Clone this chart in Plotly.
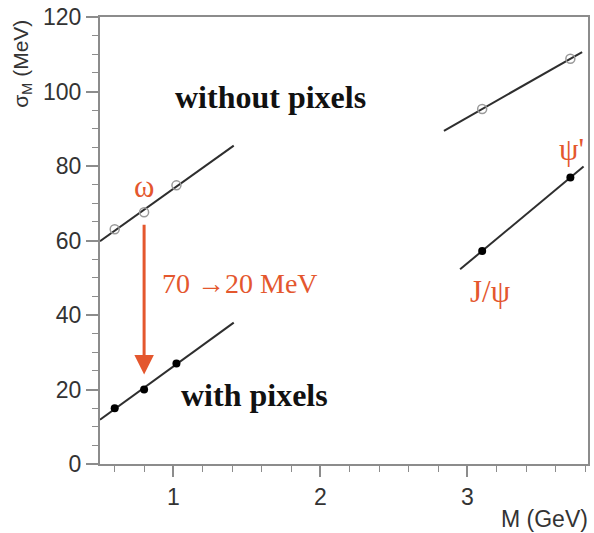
import numpy as np
import plotly.graph_objects as go

# Mass resolution vs. resonance mass, with and without the pixel telescope
light_mass = [0.60, 0.80, 1.02]          # GeV
light_without = [63.0, 67.6, 74.8]       # MeV
light_with = [15.0, 20.0, 27.0]          # MeV

heavy_mass = [3.10, 3.70]                # GeV (J/psi, psi')
heavy_without = [95.3, 108.8]            # MeV
heavy_with = [57.2, 76.9]                # MeV

# x extent of the straight-line fits drawn through each group
light_fit_range = [0.5, 1.41]
heavy_without_fit_range = [2.84, 3.78]
heavy_with_fit_range = [2.95, 3.79]

x_ticks = [1, 2, 3]
y_ticks = [0, 20, 40, 60, 80, 100, 120]

RED = "#e4572e"
LINE = "#2e2e2e"
AXIS = "#8c8c8c"
SANS = "Liberation Sans, Arial, sans-serif"
SERIF = "Liberation Serif, Times New Roman, serif"

fig = go.Figure()


def add_fit(xs, ys, xr):
    k, b = np.polyfit(xs, ys, 1)
    xx = np.array(xr)
    fig.add_trace(go.Scatter(x=xx, y=k * xx + b, mode="lines",
                             line=dict(color=LINE, width=2),
                             hoverinfo="skip", showlegend=False))


add_fit(light_mass, light_without, light_fit_range)
add_fit(light_mass, light_with, light_fit_range)
add_fit(heavy_mass, heavy_without, heavy_without_fit_range)
add_fit(heavy_mass, heavy_with, heavy_with_fit_range)

# open markers: without pixels
fig.add_trace(go.Scatter(x=light_mass + heavy_mass,
                         y=light_without + heavy_without,
                         mode="markers", showlegend=False,
                         marker=dict(symbol="circle-open", size=9,
                                     color="#9a9a9a", line=dict(width=1.5))))
# filled markers: with pixels
fig.add_trace(go.Scatter(x=light_mass + heavy_mass,
                         y=light_with + heavy_with,
                         mode="markers", showlegend=False,
                         marker=dict(symbol="circle", size=8, color="black")))

annotations = [
    dict(x=1.66, y=98.5, text="<b>without pixels</b>", showarrow=False,
         font=dict(family=SERIF, size=32, color="#111")),
    dict(x=1.55, y=18.4, text="<b>with pixels</b>", showarrow=False,
         font=dict(family=SERIF, size=32, color="#111")),
    dict(x=0.80, y=74.5, text="ω", showarrow=False,
         font=dict(family=SERIF, size=31, color=RED)),
    dict(x=0.905, y=48.4, text="70 →20 MeV", showarrow=False, xanchor="left",
         font=dict(family=SERIF, size=28, color=RED)),
    dict(x=3.16, y=46.3, text="J/ψ", showarrow=False,
         font=dict(family=SERIF, size=31, color=RED)),
    dict(x=3.71, y=84.5, text="ψ'", showarrow=False,
         font=dict(family=SERIF, size=31, color=RED)),
    # improvement arrow at the omega mass
    dict(x=light_mass[1], y=light_with[1] + 4.0, ax=light_mass[1],
         ay=light_without[1] - 3.0, xref="x", yref="y", axref="x", ayref="y",
         text="", showarrow=True, arrowhead=2, arrowsize=1.3,
         arrowwidth=3, arrowcolor=RED),
    # axis titles
    dict(x=-0.16, y=0.895, xref="paper", yref="paper", xanchor="center",
         yanchor="middle", textangle=-90, showarrow=False,
         text="σ<sub>M</sub> (MeV)",
         font=dict(family=SANS, size=21, color="#333")),
    dict(x=1.005, y=-0.124, xref="paper", yref="paper", xanchor="right",
         yanchor="middle", showarrow=False, text="M (GeV)",
         font=dict(family=SANS, size=23, color="#333")),
]

fig.update_layout(
    width=594, height=533,
    margin=dict(l=100, r=4, t=13, b=69),
    paper_bgcolor="white", plot_bgcolor="white",
    annotations=annotations,
    xaxis=dict(range=[0.5, 3.82], tickvals=x_ticks, ticks="outside",
               ticklen=11, tickwidth=1.5, tickcolor=AXIS,
               showline=True, linecolor=AXIS, linewidth=2, mirror=True,
               showgrid=False, zeroline=False,
               tickfont=dict(family=SANS, size=23, color="#333"),
               minor=dict(dtick=0.2, ticks="outside", ticklen=6,
                          tickcolor=AXIS, tickwidth=1.2, showgrid=False)),
    yaxis=dict(range=[0, 120], tickvals=y_ticks, ticks="outside",
               ticklen=12, tickwidth=1.5, tickcolor=AXIS,
               showline=True, linecolor=AXIS, linewidth=2, mirror=True,
               showgrid=False, zeroline=False,
               tickfont=dict(family=SANS, size=23, color="#333"),
               minor=dict(dtick=5, ticks="outside", ticklen=6,
                          tickcolor=AXIS, tickwidth=1.2, showgrid=False)),
)

fig.write_html("out.html")
